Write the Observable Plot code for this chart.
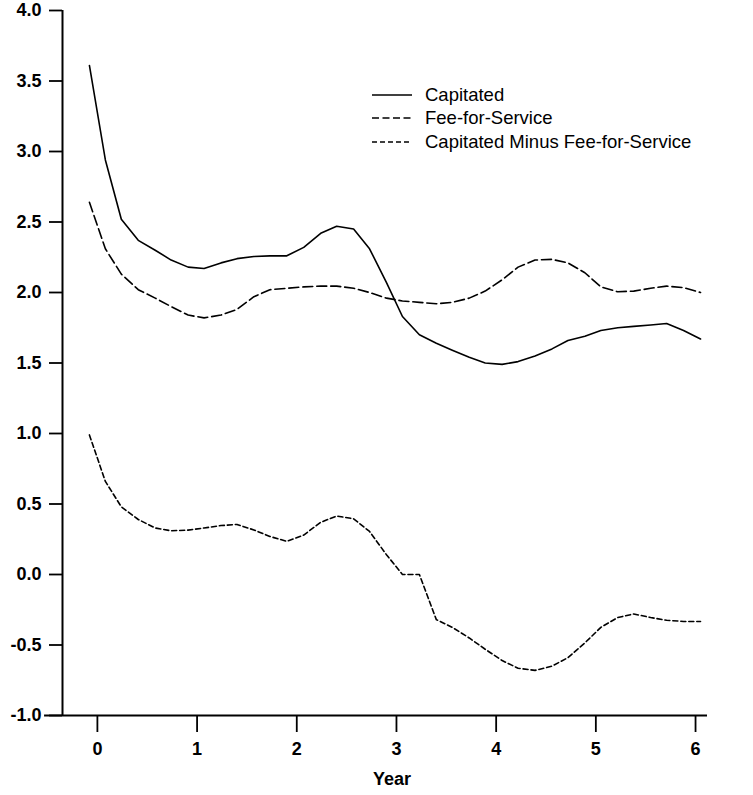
<!DOCTYPE html>
<html>
<head>
<meta charset="utf-8">
<script src="https://cdn.jsdelivr.net/npm/d3@7"></script>
<script src="https://cdn.jsdelivr.net/npm/@observablehq/plot@0.6"></script>
<style>
  html, body { margin: 0; padding: 0; background: #fff; }
  #wrap { position: relative; width: 753px; height: 795px; }
  #legend { position: absolute; left: 372px; top: 83px; font-family: "Liberation Sans", Arial, Helvetica, sans-serif; font-size: 18.5px; color: #000; }
  .row { display: flex; align-items: center; height: 23.5px; }
  .row svg { width: 40px; height: 10px; margin-right: 13px; }
</style>
</head>
<body>
<div id="wrap"><div id="legend"></div></div>
<script>
const years = [-0.08, 0.08, 0.24, 0.41, 0.58, 0.74, 0.91, 1.07, 1.24, 1.40, 1.57, 1.73, 1.90, 2.07, 2.24, 2.40, 2.57, 2.73, 2.90, 3.06, 3.23, 3.40, 3.56, 3.73, 3.89, 4.06, 4.22, 4.39, 4.56, 4.72, 4.89, 5.05, 5.22, 5.38, 5.55, 5.71, 5.88, 6.05];
const capitated = [3.61, 2.94, 2.52, 2.37, 2.30, 2.23, 2.18, 2.17, 2.21, 2.24, 2.255, 2.26, 2.26, 2.32, 2.42, 2.47, 2.45, 2.31, 2.07, 1.83, 1.70, 1.64, 1.59, 1.54, 1.50, 1.49, 1.51, 1.55, 1.60, 1.66, 1.69, 1.73, 1.75, 1.76, 1.77, 1.78, 1.73, 1.67];
const feeForService = [2.64, 2.31, 2.13, 2.02, 1.96, 1.90, 1.84, 1.82, 1.84, 1.88, 1.97, 2.02, 2.03, 2.04, 2.045, 2.045, 2.03, 2.00, 1.96, 1.94, 1.93, 1.92, 1.93, 1.96, 2.01, 2.09, 2.18, 2.23, 2.235, 2.21, 2.14, 2.04, 2.005, 2.01, 2.03, 2.045, 2.035, 2.00];
const difference = [0.99, 0.66, 0.48, 0.39, 0.33, 0.31, 0.315, 0.33, 0.347, 0.355, 0.316, 0.27, 0.235, 0.28, 0.37, 0.415, 0.395, 0.305, 0.14, 0.00, 0.00, -0.32, -0.375, -0.45, -0.53, -0.61, -0.665, -0.68, -0.65, -0.59, -0.485, -0.375, -0.305, -0.28, -0.305, -0.325, -0.333, -0.333];

const seriesNames = ["Capitated", "Fee-for-Service", "Capitated Minus Fee-for-Service"];
const seriesDash = [null, "10,4", "5,3"];
const legendDash = [null, "7,3.5", "5,3"];
const xTicks = [0, 1, 2, 3, 4, 5, 6];
const yTicks = [-1.0, -0.5, 0.0, 0.5, 1.0, 1.5, 2.0, 2.5, 3.0, 3.5, 4.0];
const xAxisLabel = "Year";

const seriesValues = [capitated, feeForService, difference];
const rows = seriesValues.map(vals => years.map((x, i) => ({x, y: vals[i]})));

const xDomain = [-0.35, 6.12];
const font = "'Liberation Sans', Arial, Helvetica, sans-serif";

const chart = Plot.plot({
  width: 753,
  height: 795,
  marginLeft: 62,
  marginRight: 46,
  marginTop: 10,
  marginBottom: 80,
  x: {domain: xDomain},
  y: {domain: [-1, 4]},
  style: {fontFamily: font, fontSize: "18px", fontWeight: "bold", background: "#fff", color: "#000"},
  marks: [
    Plot.axisY({ticks: yTicks, tickFormat: d => d.toFixed(1), tickSize: 13, tickPadding: 8, strokeWidth: 1.8, label: null, fontSize: 18, fontWeight: "bold"}),
    Plot.axisX({ticks: xTicks, tickFormat: d => String(d), tickSize: 17, tickPadding: 10, strokeWidth: 1.8, label: null, fontSize: 18, fontWeight: "bold"}),
    Plot.ruleX([xDomain[0]], {y1: -1, y2: 4, strokeWidth: 2}),
    Plot.ruleY([-1], {x1: -0.53, x2: xDomain[1], strokeWidth: 2}),
    ...rows.map((r, i) => Plot.line(r, {x: "x", y: "y", stroke: "#000", strokeWidth: 1.6, strokeDasharray: seriesDash[i]})),
    Plot.text([xAxisLabel], {frameAnchor: "bottom", dx: 7, dy: 69, fontSize: 18, fontWeight: "bold", text: d => d})
  ]
});
document.getElementById("wrap").prepend(chart);

const legend = document.getElementById("legend");
seriesNames.forEach((name, i) => {
  const row = document.createElement("div");
  row.className = "row";
  const dash = legendDash[i] ? ` stroke-dasharray="${legendDash[i]}"` : "";
  row.innerHTML = `<svg viewBox="0 0 40 10"><line x1="0" y1="5" x2="40" y2="5" stroke="#000" stroke-width="1.6"${dash}/></svg><span>${name}</span>`;
  legend.appendChild(row);
});
</script>
</body>
</html>
